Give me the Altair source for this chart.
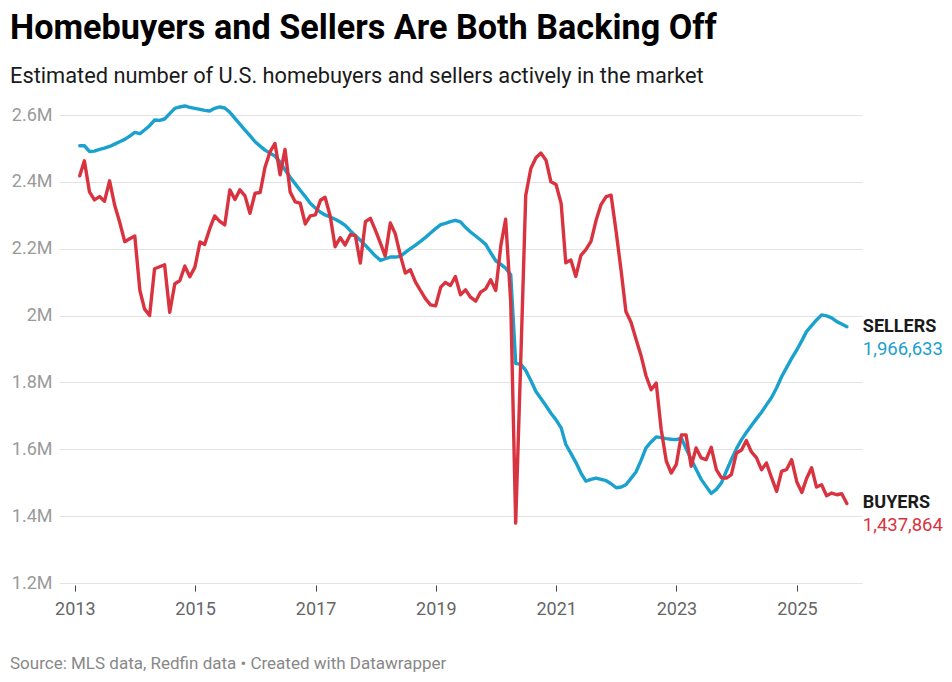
import calendar
import altair as alt
import pandas as pd

# Month-end dates, Jan 2013 .. Oct 2025
dates = []
for k in range(154):
    y = 2013 + k // 12
    m = k % 12 + 1
    d = calendar.monthrange(y, m)[1]
    dates.append(f"{y:04d}-{m:02d}-{d:02d}")

# Sellers (thousands)
sellers_k = [
    2508, 2508, 2491, 2492, 2497, 2501, 2506, 2513, 2520, 2527, 2537, 2548,
    2544, 2555, 2568, 2585, 2584, 2588, 2604, 2620, 2624, 2627, 2623, 2620,
    2617, 2614, 2612, 2620, 2624, 2621, 2608, 2590, 2573, 2555, 2538, 2520,
    2507, 2495, 2486, 2477, 2459, 2436, 2414, 2394, 2375, 2356, 2336, 2322,
    2309, 2301, 2295, 2288, 2280, 2270, 2254, 2239, 2225, 2210, 2194, 2178,
    2165, 2170, 2175, 2175, 2177, 2189, 2200, 2211, 2222, 2234, 2247, 2260,
    2272, 2276, 2281, 2285, 2280, 2264, 2250, 2238, 2226, 2213, 2188, 2164,
    2153, 2142, 2122, 1857, 1854, 1836, 1806, 1773, 1752, 1730, 1708, 1688,
    1664, 1615, 1588, 1561, 1529, 1505, 1510, 1514, 1510, 1506, 1497, 1485,
    1487, 1494, 1513, 1532, 1567, 1604, 1622, 1637, 1635, 1632, 1630, 1629,
    1633, 1602, 1570, 1540, 1510, 1489, 1468, 1480, 1499, 1535, 1569, 1602,
    1629, 1650, 1671, 1691, 1711, 1733, 1755, 1784, 1817, 1845, 1872, 1897,
    1925, 1952, 1970, 1987, 2002, 1999, 1993, 1982, 1975, 1966.633,
]

# Buyers (thousands)
buyers_k = [
    2418, 2463, 2370, 2346, 2356, 2342, 2403, 2330, 2280, 2221, 2230, 2238,
    2075, 2020, 2000, 2140, 2146, 2152, 2010, 2095, 2104, 2148, 2116, 2145,
    2220, 2213, 2260, 2298, 2282, 2271, 2376, 2347, 2376, 2358, 2306, 2366,
    2368, 2443, 2490, 2515, 2421, 2497, 2370, 2340, 2336, 2274, 2298, 2301,
    2345, 2354, 2298, 2206, 2233, 2211, 2242, 2239, 2157, 2281, 2291, 2255,
    2215, 2178, 2277, 2245, 2180, 2127, 2137, 2100, 2075, 2050, 2032, 2029,
    2085, 2099, 2090, 2117, 2062, 2077, 2055, 2043, 2070, 2080, 2107, 2075,
    2210, 2288, 2040, 1379, 1870, 2360, 2440, 2472, 2486, 2465, 2400, 2392,
    2335, 2158, 2166, 2117, 2180, 2197, 2222, 2285, 2332, 2356, 2360, 2250,
    2130, 2012, 1980, 1930, 1880, 1820, 1778, 1798, 1660, 1565, 1529, 1555,
    1643, 1643, 1549, 1604, 1574, 1569, 1606, 1539, 1515, 1514, 1524, 1589,
    1598, 1626, 1592, 1575, 1539, 1559, 1515, 1474, 1534, 1540, 1569, 1503,
    1471, 1512, 1545, 1487, 1494, 1461, 1469, 1464, 1467, 1437.864,
]

series_names = ["SELLERS", "BUYERS"]
series_colors = ["#1ba1cd", "#d93340"]
year_ticks = [2013, 2015, 2017, 2019, 2021, 2023, 2025]
y_ticks = [1.2e6, 1.4e6, 1.6e6, 1.8e6, 2.0e6, 2.2e6, 2.4e6, 2.6e6]

title_text = "Homebuyers and Sellers Are Both Backing Off"
subtitle_text = "Estimated number of U.S. homebuyers and sellers actively in the market"
footer_text = "Source: MLS data, Redfin data \u2022 Created with Datawrapper"

FONT = "Roboto"

sellers_df = pd.DataFrame({"date": dates, "value": [v * 1000 for v in sellers_k]})
buyers_df = pd.DataFrame({"date": dates, "value": [v * 1000 for v in buyers_k]})

end_df = pd.DataFrame({
    "date": [dates[-1], dates[-1]],
    "value": [sellers_k[-1] * 1000, buyers_k[-1] * 1000],
    "name": series_names,
    "label": [f"{round(sellers_k[-1] * 1000):,}", f"{round(buyers_k[-1] * 1000):,}"],
})

x_enc = alt.X(
    "date:T",
    scale=alt.Scale(
        type="utc",
        domain=[
            alt.DateTime(year=2012, month=9, date=27, utc=True),
            alt.DateTime(year=2026, month=1, date=31, utc=True),
        ],
    ),
    axis=alt.Axis(
        values=[alt.DateTime(year=yr, month=1, date=1, utc=True) for yr in year_ticks],
        labelExpr="utcFormat(datum.value, '%Y')",
        grid=False,
        domain=False,
        ticks=True,
        tickColor="#444444",
        tickSize=6,
        tickWidth=1,
        offset=2,
        labelFont=FONT,
        labelFontSize=18,
        labelColor="#666666",
        labelPadding=9,
        title=None,
    ),
)

y_enc = alt.Y(
    "value:Q",
    scale=alt.Scale(domain=[1.2e6, 2.6e6], nice=False, zero=False),
    axis=alt.Axis(
        values=y_ticks,
        format=".2~s",
        grid=True,
        gridColor="#e3e3e3",
        gridWidth=1,
        domain=False,
        ticks=False,
        labelPadding=7,
        labelFont=FONT,
        labelFontSize=18,
        labelColor="#9a9a9a",
        title=None,
    ),
)

sellers_line = alt.Chart(sellers_df).mark_line(
    color=series_colors[0], strokeWidth=3.4, strokeJoin="round", strokeCap="round"
).encode(x=x_enc, y=y_enc)

buyers_line = alt.Chart(buyers_df).mark_line(
    color=series_colors[1], strokeWidth=3.4, strokeJoin="round", strokeCap="round"
).encode(x=x_enc, y=y_enc)

end_names = alt.Chart(end_df).mark_text(
    align="left", baseline="middle", dx=16, font=FONT, fontSize=18,
    fontWeight="bold", color="#1a1a1a"
).encode(x="date:T", y="value:Q", text="name:N")

end_values = alt.Chart(end_df).mark_text(
    align="left", baseline="middle", dx=16, dy=22, font=FONT, fontSize=18.5
).encode(
    x="date:T",
    y="value:Q",
    text="label:N",
    color=alt.Color("name:N", scale=alt.Scale(domain=series_names, range=series_colors), legend=None),
)

title_mark = alt.Chart(pd.DataFrame({"t": [title_text]})).mark_text(
    align="left", baseline="alphabetic", font=FONT, fontSize=34.2,
    fontWeight="bold", color="#000000"
).encode(x=alt.value(-49), y=alt.value(-76), text="t:N")

subtitle_mark = alt.Chart(pd.DataFrame({"t": [subtitle_text]})).mark_text(
    align="left", baseline="alphabetic", font=FONT, fontSize=21.8, color="#1a1a1a"
).encode(x=alt.value(-49), y=alt.value(-32), text="t:N")

footer_mark = alt.Chart(pd.DataFrame({"t": [footer_text]})).mark_text(
    align="left", baseline="alphabetic", font=FONT, fontSize=17, color="#888888"
).encode(x=alt.value(-49), y=alt.value(554), text="t:N")

chart = alt.layer(
    sellers_line, buyers_line, end_names, end_values,
    title_mark, subtitle_mark, footer_mark,
).properties(
    width=803,
    height=468,
    autosize=alt.AutoSizeParams(type="none"),
    padding={"left": 51, "top": 107, "right": 82, "bottom": 90},
    background="#ffffff",
).configure_view(strokeWidth=0)

chart.save("out.html", embed_options={"renderer": "svg", "actions": False})
